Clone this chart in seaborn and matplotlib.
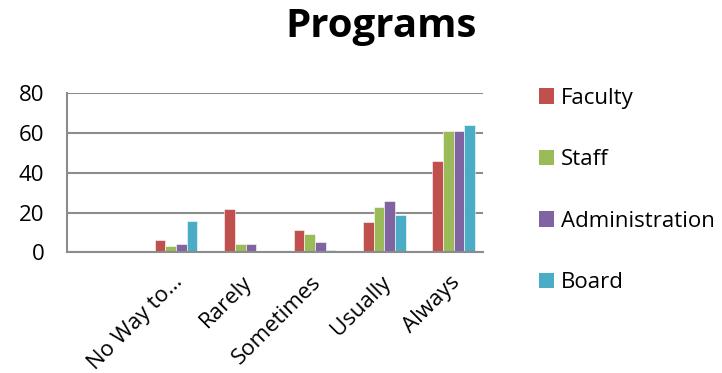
import matplotlib
matplotlib.use("Agg")
import matplotlib.pyplot as plt
import matplotlib.transforms as mtransforms
from matplotlib.patches import Patch
import seaborn as sns
import pandas as pd

categories = ["", "No Way to…", "Rarely", "Sometimes", "Usually", "Always"]
series = ["Faculty", "Staff", "Administration", "Board"]
faculty = [0, 6, 22, 11, 15, 46]
staff = [0, 3, 4, 9, 23, 61]
administration = [0, 4, 4, 5, 26, 61]
board = [0, 16, 0, 1, 19, 64]
colors = ["#C0504D", "#9BBB59", "#8064A2", "#4BACC6"]
yticks = [0, 20, 40, 60, 80]

values = {"Faculty": faculty, "Staff": staff, "Administration": administration, "Board": board}
rows = []
for i, c in enumerate(categories):
    rows.append({"cat": c if c else " ", "series": "_gap", "value": 0})
    for s in series:
        rows.append({"cat": c if c else " ", "series": s, "value": values[s][i]})
df = pd.DataFrame(rows)
order = [c if c else " " for c in categories]

sns.set_theme(style="white")
plt.rcParams["font.family"] = ["Open Sans", "DejaVu Sans"]
plt.rcParams["text.color"] = "black"
plt.rcParams["xtick.labelcolor"] = "black"
plt.rcParams["ytick.labelcolor"] = "black"

fig = plt.figure(figsize=(7.22, 3.73), dpi=100)
ax = fig.add_axes([66.7/722, 1-252.3/373, (483-66.7)/722, (252.3-93.3)/373])

pal = {"_gap": "white"}
pal.update(dict(zip(series, colors)))
sns.barplot(data=df, x="cat", y="value", hue="series", order=order,
            hue_order=["_gap"] + series, palette=pal, width=0.77, gap=0,
            legend=False, ax=ax, edgecolor="white", linewidth=0.4, saturation=1)

grid_c = "#8C8C8C"
ax.set_ylim(0, 80)
ax.set_xlim(-0.5, len(categories) - 0.5)
ax.set_yticks(yticks)
ax.yaxis.grid(True, color=grid_c, linewidth=1.5)
ax.set_axisbelow(True)
for s in ["top", "right"]:
    ax.spines[s].set_visible(False)
for s in ["left", "bottom"]:
    ax.spines[s].set_color(grid_c)
    ax.spines[s].set_linewidth(1.5)
ax.set_xlabel("")
ax.set_ylabel("")

fs = 16
ax.set_xticks(range(len(categories)))
ax.set_xticklabels(categories, rotation=45, ha="right", rotation_mode="anchor", fontsize=fs)
ax.tick_params(axis="x", which="major", length=0, pad=14)
ax.set_xticks([i - 0.5 for i in range(len(categories) + 1)], minor=True)
ax.tick_params(axis="x", which="minor", length=6, width=1.5, color=grid_c, direction="out")
ax.tick_params(axis="y", length=6, width=1.5, color=grid_c, direction="out", labelsize=fs, pad=10)
for lab in ax.get_xticklabels() + ax.get_yticklabels():
    lab.set_color("black")
offset = mtransforms.ScaledTranslation(1/100, 0, fig.dpi_scale_trans)
for lab in ax.get_xticklabels():
    lab.set_transform(lab.get_transform() + offset)

fig.text(381/722, 1-27/373, "Programs", ha="center", va="center", fontsize=29,
         fontweight="bold", color="black")

handles = [Patch(facecolor=c, edgecolor="none") for c in colors]
fig.legend(handles, series, loc="center left", bbox_to_anchor=(539/722, 1-190.5/373),
           frameon=False, fontsize=fs, handlelength=0.68, handleheight=0.68,
           handletextpad=0.32, labelspacing=1.82, borderpad=0, borderaxespad=0)

fig.savefig("out.png", dpi=100)
